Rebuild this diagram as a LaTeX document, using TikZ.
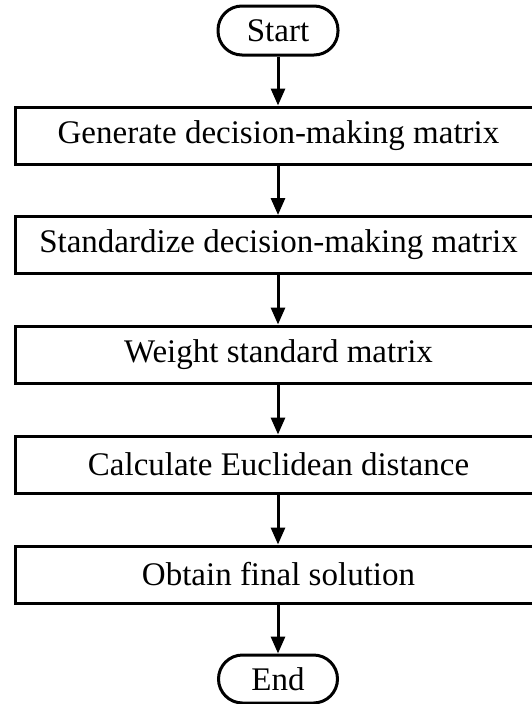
\documentclass[tikz,border=0pt]{standalone}
\usepackage{fontspec}
\setmainfont{Liberation Serif}
\usetikzlibrary{arrows.meta}
\begin{document}
\begin{tikzpicture}[x=1pt,y=1pt,
  every node/.style={font=\fontsize{33}{40}\selectfont},
  procbox/.style={draw=black,line width=3pt,minimum width=527pt,minimum height=57pt,inner sep=0pt},
  termbox/.style={draw=black,line width=3pt,rounded corners=24pt,minimum width=120pt,minimum height=49pt,inner sep=0pt},
  flow/.style={line width=3pt,-{Triangle[width=14pt,length=17pt]}}]
\useasboundingbox (0,0) rectangle (532,-704);
\node[termbox] (start) at (278,-30.5) {Start};
\node[procbox] (gen) at (278.5,-135.5) {Generate decision-making matrix};
\node[procbox] (std) at (278.5,-245) {Standardize decision-making matrix};
\node[procbox] (wgt) at (278.5,-354.5) {Weight standard matrix};
\node[procbox] (calc) at (278.5,-464.5) {Calculate Euclidean distance};
\node[procbox] (obt) at (278.5,-574.5) {Obtain final solution};
\node[termbox,minimum width=119pt,minimum height=48pt] (end) at (278,-679) {End};
\draw[flow] (start.south) -- (start.south |- gen.north);
\draw[flow] (gen.south -| start.south) -- (start.south |- std.north);
\draw[flow] (std.south -| start.south) -- (start.south |- wgt.north);
\draw[flow] (wgt.south -| start.south) -- (start.south |- calc.north);
\draw[flow] (calc.south -| start.south) -- (start.south |- obt.north);
\draw[flow] (obt.south -| end.north) -- (end.north);
\end{tikzpicture}
\end{document}
